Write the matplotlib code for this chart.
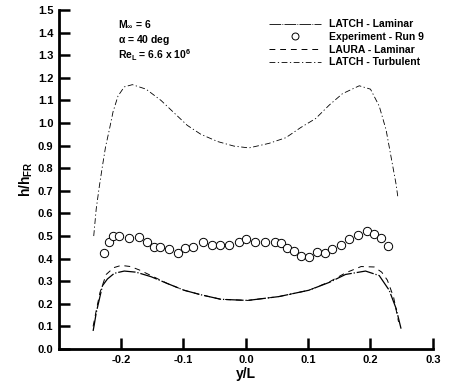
import matplotlib
matplotlib.use("Agg")
import matplotlib.pyplot as plt
from matplotlib.lines import Line2D

plt.rcParams['font.family'] = ['Liberation Sans', 'DejaVu Sans']
plt.rcParams['font.weight'] = 'bold'
plt.rcParams['axes.unicode_minus'] = False
plt.rcParams['mathtext.fontset'] = 'custom'
plt.rcParams['mathtext.rm'] = 'Liberation Sans:bold'
plt.rcParams['mathtext.bf'] = 'Liberation Sans:bold'
plt.rcParams['mathtext.it'] = 'Liberation Sans:bold'
plt.rcParams['mathtext.default'] = 'bf'

# Experiment - Run 9
exp_y = [-0.227, -0.220, -0.213, -0.204, -0.188, -0.172, -0.158, -0.148, -0.137, -0.124,
         -0.109, -0.097, -0.084, -0.068, -0.055, -0.042, -0.027, -0.011, 0.001, 0.015,
         0.031, 0.047, 0.056, 0.066, 0.077, 0.088, 0.101, 0.114, 0.127, 0.139,
         0.152, 0.165, 0.180, 0.195, 0.205, 0.217, 0.228]
exp_h = [0.423, 0.472, 0.501, 0.500, 0.493, 0.497, 0.475, 0.453, 0.450, 0.441,
         0.423, 0.446, 0.453, 0.475, 0.460, 0.460, 0.460, 0.475, 0.485, 0.472,
         0.472, 0.475, 0.468, 0.446, 0.435, 0.412, 0.408, 0.428, 0.423, 0.442,
         0.460, 0.485, 0.504, 0.522, 0.507, 0.493, 0.456]

# LATCH - Turbulent
turb_y = [-0.244, -0.240, -0.235, -0.230, -0.225, -0.219, -0.213, -0.205, -0.195, -0.182,
          -0.160, -0.136, -0.115, -0.094, -0.072, -0.045, -0.019, 0.005, 0.037, 0.064,
          0.088, 0.112, 0.134, 0.155, 0.182, 0.200, 0.214, 0.225, 0.233, 0.241, 0.244]
turb_h = [0.50, 0.62, 0.72, 0.81, 0.895, 0.97, 1.05, 1.12, 1.16, 1.17,
          1.15, 1.10, 1.045, 0.99, 0.95, 0.918, 0.898, 0.89, 0.91, 0.935,
          0.98, 1.02, 1.08, 1.13, 1.165, 1.15, 1.075, 0.97, 0.85, 0.73, 0.67]

# LATCH - Laminar
lam_y = [-0.245, -0.243, -0.240, -0.235, -0.230, -0.222, -0.211, -0.195, -0.176, -0.152,
         -0.126, -0.099, -0.072, -0.040, 0.003, 0.053, 0.101, 0.134, 0.160, 0.192,
         0.214, 0.230, 0.241, 0.249]
lam_h = [0.08, 0.11, 0.16, 0.22, 0.28, 0.31, 0.335, 0.345, 0.34, 0.32,
         0.29, 0.26, 0.24, 0.22, 0.215, 0.232, 0.26, 0.295, 0.33, 0.345,
         0.325, 0.26, 0.18, 0.09]

# LAURA - Laminar
laura_y = [-0.245, -0.240, -0.234, -0.224, -0.212, -0.200, -0.185, -0.171, -0.152, -0.126,
           -0.099, -0.072, -0.040, 0.003, 0.053, 0.101, 0.134, 0.160, 0.185, 0.206,
           0.218, 0.227, 0.237, 0.245]
laura_h = [0.10, 0.17, 0.25, 0.33, 0.36, 0.37, 0.365, 0.35, 0.325, 0.29,
           0.26, 0.24, 0.22, 0.215, 0.232, 0.26, 0.297, 0.337, 0.365, 0.363,
           0.34, 0.305, 0.23, 0.12]

fig = plt.figure(figsize=(4.49, 3.88), dpi=100)
ax = fig.add_axes([0.131, 0.1005, 0.833, 0.8735])

ax.plot(turb_y, turb_h, color='black', lw=0.6, linestyle=(0, (7, 3, 1.5, 3)))
ax.plot(laura_y, laura_h, color='black', lw=0.7, linestyle=(0, (6, 5)))
ax.plot(lam_y, lam_h, color='black', lw=0.9, linestyle=(0, (14, 1.5, 1, 1.5)))
ax.plot(exp_y, exp_h, 'o', mfc='white', mec='black', mew=0.7, ms=6)

ax.set_xlim(-0.3, 0.3)
ax.set_ylim(0.0, 1.5)
ax.set_xticks([-0.2, -0.1, 0.0, 0.1, 0.2, 0.3])
ax.set_xticklabels(['-0.2', '-0.1', '0.0', '0.1', '0.2', '0.3'])
ax.set_yticks([i / 10 for i in range(16)])
ax.set_yticklabels(['%.1f' % (i / 10) for i in range(16)])
ax.tick_params(direction='in', length=8, width=1.8, labelsize=8, pad=4)
for s in ['top', 'right']:
    ax.spines[s].set_visible(False)
for s in ['left', 'bottom']:
    ax.spines[s].set_linewidth(2)

ax.set_xlabel('y/L', fontsize=10, fontweight='bold', labelpad=2)
ax.set_ylabel(r'h/h$_{FR}$', fontsize=10, fontweight='bold', labelpad=2)

ax.text(0.158, 0.975, r'M$_\infty$ = 6', transform=ax.transAxes, fontsize=7.5, va='top')
ax.text(0.158, 0.932, r'$\alpha$ = 40 deg', transform=ax.transAxes, fontsize=7.5, va='top')
ax.text(0.158, 0.889, r'Re$_L$ = 6.6 x 10$^6$', transform=ax.transAxes, fontsize=7.5, va='top')

handles = [
    Line2D([], [], color='black', lw=0.6, linestyle=(0, (14, 1.5, 1, 1.5))),
    Line2D([], [], marker='o', ls='none', mfc='white', mec='black', mew=0.7, ms=5),
    Line2D([], [], color='black', lw=0.7, linestyle=(0, (6, 5))),
    Line2D([], [], color='black', lw=0.6, linestyle=(0, (7, 3, 1.5, 3))),
]
labels = ['LATCH - Laminar', 'Experiment - Run 9', 'LAURA - Laminar', 'LATCH - Turbulent']
ax.legend(handles, labels, loc='upper left', bbox_to_anchor=(0.55, 0.985), frameon=False,
          fontsize=7.5, handlelength=5, labelspacing=0.25, handletextpad=0.8, borderaxespad=0.0)

fig.savefig('out.png', dpi=100)
